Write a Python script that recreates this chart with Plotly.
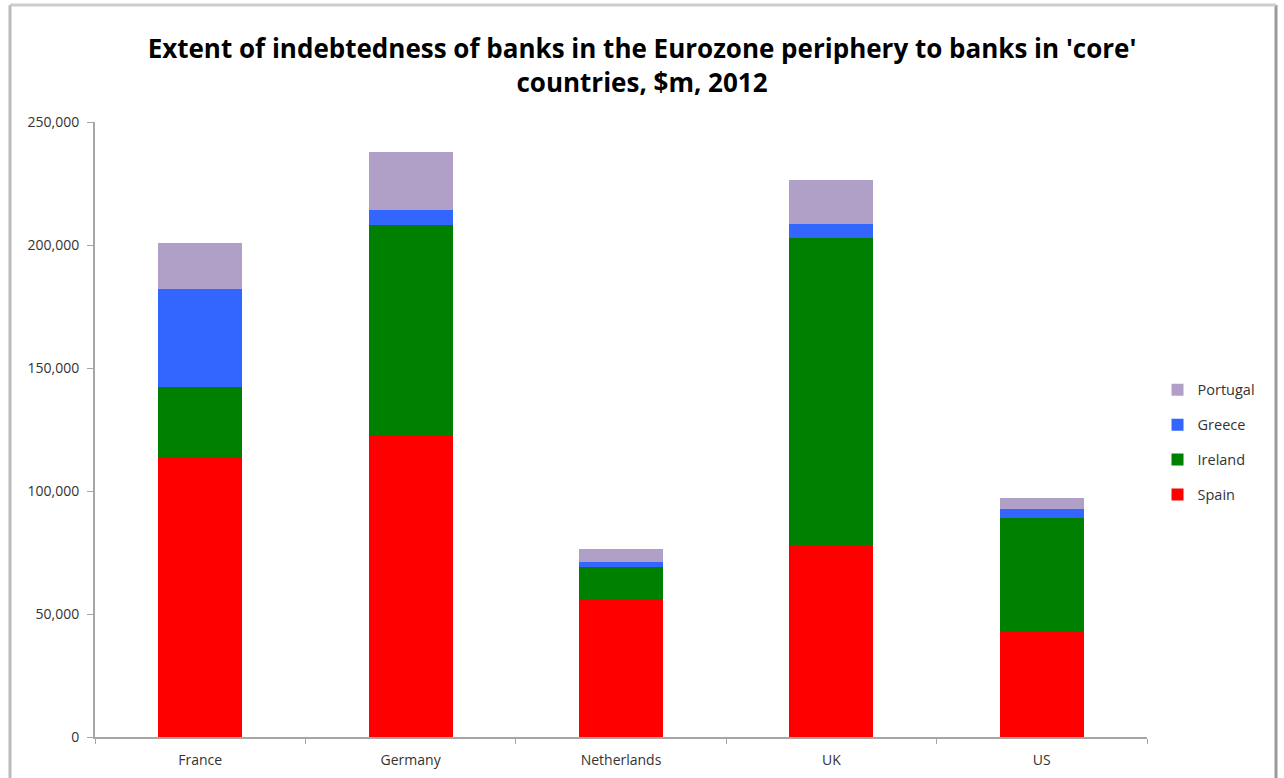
import plotly.graph_objects as go

countries = ["France", "Germany", "Netherlands", "UK", "US"]
spain = [114000, 122500, 55700, 77700, 43100]
ireland = [28300, 85700, 13400, 125100, 45900]
greece = [39800, 6100, 2000, 5700, 3700]
portugal = [18700, 23600, 5300, 17900, 4500]
y_ticks = [0, 50000, 100000, 150000, 200000, 250000]

series = [("Spain", spain, "#FF0000", 4), ("Ireland", ireland, "#008000", 3),
          ("Greece", greece, "#3366FF", 2), ("Portugal", portugal, "#B0A0C8", 1)]

fig = go.Figure()
for name, vals, col, rank in series:
    fig.add_trace(go.Bar(x=countries, y=vals, name=name, marker_color=col,
                         marker_line_width=0, legendgroup=name, legendrank=rank))

W, H = 1284, 778
L, R, T, B = 95, 137, 122, 41
pw, ph = W - L - R, H - T - B

fig.update_layout(
    width=W, height=H, barmode="stack", bargap=0.6,
    plot_bgcolor="white", paper_bgcolor="white",
    margin=dict(l=L, r=R, t=T, b=B),
    title=dict(text="Extent of indebtedness of banks in the Eurozone periphery to banks in 'core'<br>countries, $m, 2012",
               x=0.5, xanchor="center", y=0.925, yanchor="top",
               font=dict(family="Open Sans", size=26, color="black", weight="bold")),
    font=dict(family="Open Sans", size=14, color="#333333"),
    legend=dict(traceorder="grouped", tracegroupgap=13, x=1.01, xanchor="left",
                y=0.479, yanchor="middle", font=dict(size=14.5, color="#333333"),
                itemwidth=30),
    xaxis=dict(showline=True, linecolor="#A6A6A6", linewidth=2, ticks="outside",
               tickson="boundaries", ticklen=5, tickcolor="#A6A6A6",
               ticklabelstandoff=9, automargin=False,
               tickfont=dict(size=14, color="#333333")),
    yaxis=dict(range=[0, 250000], tickvals=y_ticks, tickformat=",", showgrid=False,
               showline=True, linecolor="#A6A6A6", linewidth=2, ticks="outside",
               ticklen=6, tickcolor="#A6A6A6", zeroline=False,
               ticklabelstandoff=5, automargin=False,
               tickfont=dict(size=14, color="#333333")),
)

# outer chart frame
x0 = (10 - L) / pw
x1 = (1276 - L) / pw
y1 = (H - B - 5) / ph
fig.add_shape(type="line", xref="paper", yref="paper", x0=x0, x1=x0, y0=-1, y1=y1,
              line=dict(color="#BBBBBB", width=3))
fig.add_shape(type="line", xref="paper", yref="paper", x0=x1, x1=x1, y0=-1, y1=y1,
              line=dict(color="#999999", width=3))
fig.add_shape(type="line", xref="paper", yref="paper", x0=x0, x1=x1, y0=y1, y1=y1,
              line=dict(color="#CCCCCC", width=3))

fig.write_html("out.html", config={"displayModeBar": False},
               post_script="document.body.style.margin='0';")
